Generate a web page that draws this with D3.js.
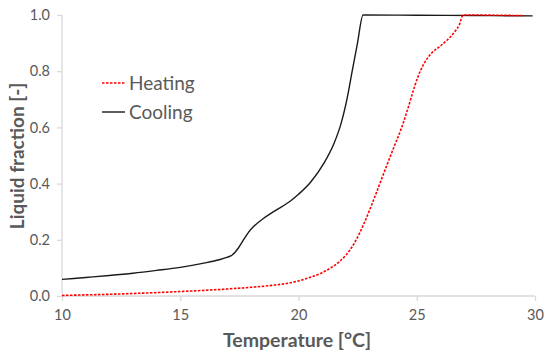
<!DOCTYPE html>
<html><head><meta charset="utf-8">
<script src="https://cdn.jsdelivr.net/npm/d3@7/dist/d3.min.js"></script>
<style>html,body{margin:0;padding:0;background:#fff;}svg{display:block;}</style>
</head><body><svg id="c" width="550" height="358"></svg>
<script>
const xTicks = [10, 15, 20, 25, 30];
const yTicks = [0, 0.2, 0.4, 0.6, 0.8, 1.0];
const heatT = [10, 11, 12, 13, 14, 15, 16, 17, 18, 19, 19.66, 20.1, 20.51, 21.0, 21.36, 21.7, 22.0, 22.34, 22.77, 23.19, 23.62, 24.04, 24.32, 24.6, 24.85, 25.05, 25.3, 25.6, 26.0, 26.3, 26.6, 26.8, 26.96, 27.5, 28.5, 29.5];
const heatF = [0.002, 0.004, 0.006, 0.009, 0.012, 0.016, 0.02, 0.025, 0.031, 0.039, 0.047, 0.056, 0.067, 0.083, 0.1, 0.12, 0.145, 0.185, 0.258, 0.345, 0.44, 0.531, 0.59, 0.66, 0.73, 0.78, 0.826, 0.862, 0.89, 0.912, 0.94, 0.965, 1.0, 1.0, 0.999, 0.998];
const coolT = [10, 11, 12, 13, 14, 15, 16, 16.6, 17.0, 17.2, 17.45, 17.7, 17.9, 18.1, 18.5, 19.0, 19.66, 20.0, 20.51, 21.07, 21.5, 21.78, 22.06, 22.27, 22.49, 22.73, 25, 27.5, 29.9];
const coolF = [0.059, 0.066, 0.073, 0.081, 0.091, 0.102, 0.117, 0.128, 0.138, 0.146, 0.17, 0.203, 0.228, 0.247, 0.275, 0.303, 0.338, 0.362, 0.405, 0.472, 0.543, 0.608, 0.705, 0.8, 0.898, 1.0, 0.999, 0.998, 0.997];

const svg = d3.select("#c");
const x = d3.scaleLinear().domain([10, 30]).range([62, 535]);
const y = d3.scaleLinear().domain([0, 1]).range([296, 15]);
const axisCol = "#d9d9d9", txtCol = "#595959";
const font = "Lato, 'Open Sans', sans-serif";

const gx = svg.append("g").attr("transform", "translate(0,296)")
  .call(d3.axisBottom(x).tickValues(xTicks).tickSize(5).tickPadding(9).tickFormat(d3.format("d")));
const gy = svg.append("g").attr("transform", "translate(62,0)")
  .call(d3.axisLeft(y).tickValues(yTicks).tickSize(5).tickPadding(7).tickFormat(d3.format(".1f")));
[gx, gy].forEach(g => {
  g.select(".domain").attr("stroke", axisCol).attr("stroke-width", 1.3);
  g.selectAll(".tick line").attr("stroke", axisCol).attr("stroke-width", 1.3);
  g.selectAll(".tick text").attr("fill", txtCol).style("font-family", font).style("font-size", "14.5px");
});
gy.select(".domain").attr("d", "M0,296V15");
gx.select(".domain").attr("d", "M62,0H535");

const line = d3.line().curve(d3.curveMonotoneX).x(d => x(d[0])).y(d => y(d[1]));
svg.append("path").datum(coolT.map((t, i) => [t, coolF[i]]))
  .attr("d", line).attr("fill", "none").attr("stroke", "#1a1a1a").attr("stroke-width", 1.4);
svg.append("path").datum(heatT.map((t, i) => [t, heatF[i]]))
  .attr("d", line).attr("fill", "none").attr("stroke", "#ff0000").attr("stroke-width", 1.6).attr("stroke-dasharray", "2.5,1.5");

// legend
const leg = [{name: "Heating", col: "#ff0000", dash: "2.5,1.5", y: 83}, {name: "Cooling", col: "#1a1a1a", dash: null, y: 112}];
leg.forEach(l => {
  svg.append("line").attr("x1", 102).attr("x2", 125).attr("y1", l.y).attr("y2", l.y)
    .attr("stroke", l.col).attr("stroke-width", 1.4).attr("stroke-dasharray", l.dash);
  svg.append("text").attr("x", 129).attr("y", l.y).attr("dy", "0.35em").text(l.name)
    .attr("fill", txtCol).style("font-family", font).style("font-size", "19px");
});

svg.append("text").attr("x", 297).attr("y", 340).attr("dy", "0.35em").attr("text-anchor", "middle")
  .text("Temperature [°C]").attr("fill", txtCol).style("font-family", font).style("font-weight", "bold").style("font-size", "19.5px");
svg.append("text").attr("transform", "translate(17,156) rotate(-90)").attr("dy", "0.35em").attr("text-anchor", "middle")
  .text("Liquid fraction [-]").attr("fill", txtCol).style("font-family", font).style("font-weight", "bold").style("font-size", "19px");
</script></body></html>
